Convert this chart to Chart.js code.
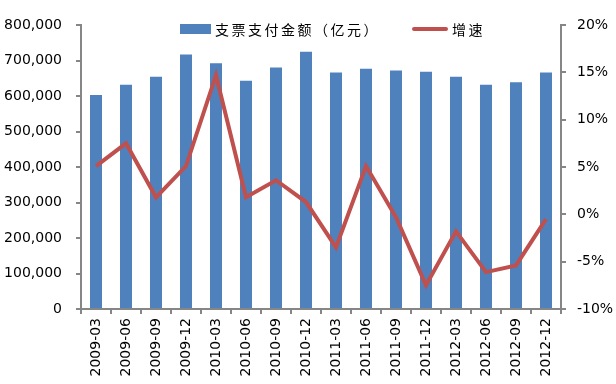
<!DOCTYPE html>
<html>
<head>
<meta charset="utf-8">
<script src="https://cdn.jsdelivr.net/npm/chart.js@4/dist/chart.umd.min.js"></script>
<style>
  body { margin: 0; background: #fff; }
  #wrap { position: relative; width: 616px; height: 384px; }
  #legend {
    position: absolute; left: 180px; top: 19px; height: 19px;
    display: flex; align-items: center;
    font-family: 'Noto Sans CJK SC'; font-size: 14px; letter-spacing: 2.5px; color: #000;
  }
  #legend .item { display: flex; align-items: center; margin-right: 32px; }
  #legend .box { margin-right: 4px; }
</style>
</head>
<body>
<div id="wrap">
  <canvas id="myChart" width="616" height="384"></canvas>
  <div id="legend"></div>
</div>
<script>
/* chart data */
const categories = ['2009-03', '2009-06', '2009-09', '2009-12', '2010-03', '2010-06', '2010-09', '2010-12',
    '2011-03', '2011-06', '2011-09', '2011-12', '2012-03', '2012-06', '2012-09', '2012-12'];
const amounts = [603000, 632000, 654000, 717000, 692000, 643000, 680000, 725000,
    666000, 677000, 672000, 668000, 654000, 632000, 639000, 666000];
const growth = [5.1, 7.5, 1.8, 5.1, 14.7, 1.8, 3.6, 1.3, -3.5, 5.1, -0.3, -7.5, -1.8, -6.1, -5.4, -0.5];

const amountLabel = '支票支付金额（亿元）';
const growthLabel = '增速';

const axisGray = '#868686';
const tickFont = { family: 'DejaVu Sans', size: 14 };

const data = {
    labels: categories,
    datasets: [{
        type: 'bar',
        label: amountLabel,
        data: amounts,
        backgroundColor: '#4F81BD',
        borderWidth: 0,
        barPercentage: 0.4,
        categoryPercentage: 1,
        yAxisID: 'y',
        order: 1
    }, {
        type: 'line',
        label: growthLabel,
        data: growth,
        borderColor: '#C0504D',
        backgroundColor: '#C0504D',
        borderWidth: 4,
        pointRadius: 0,
        tension: 0,
        yAxisID: 'y1',
        order: 0
    }]
};

// html legend, built from the datasets
const htmlLegend = {
    id: 'htmlLegend',
    afterUpdate(chart) {
        const el = document.getElementById('legend');
        el.innerHTML = '';
        chart.data.datasets.forEach((ds) => {
            const item = document.createElement('div');
            item.className = 'item';
            const box = document.createElement('span');
            box.className = 'box';
            if (ds.type === 'line') {
                box.style.cssText = 'width:36px;height:4px;border-radius:2px;background:' + ds.borderColor;
            } else {
                box.style.cssText = 'width:31px;height:10px;background:' + ds.backgroundColor;
            }
            const txt = document.createElement('span');
            txt.textContent = ds.label;
            item.appendChild(box);
            item.appendChild(txt);
            el.appendChild(item);
        });
    }
};

function loadChart() {
    new Chart(document.getElementById('myChart'), {
        data: data,
        plugins: [htmlLegend],
        options: {
            responsive: false,
            animation: false,
            layout: { padding: { top: 25, left: 0, right: 0, bottom: 0 } },
            plugins: {
                tooltip: { enabled: false },
                legend: { display: false }
            },
            scales: {
                x: {
                    grid: { display: true, drawOnChartArea: false, drawTicks: true, tickLength: 5, color: axisGray, lineWidth: 2, offset: true },
                    border: { display: true, color: axisGray, width: 2 },
                    ticks: { minRotation: 90, maxRotation: 90, autoSkip: false, padding: 4, color: '#000', font: tickFont },
                    afterFit: (s) => { s.height = 75; }
                },
                y: {
                    position: 'left',
                    min: 0,
                    max: 800000,
                    grid: { display: true, drawOnChartArea: false, drawTicks: true, tickLength: 5, color: axisGray, lineWidth: 2 },
                    border: { display: true, color: axisGray, width: 2 },
                    ticks: {
                        stepSize: 100000,
                        padding: 14,
                        color: '#000',
                        font: tickFont,
                        callback: (v) => v.toLocaleString('en-US')
                    },
                    afterFit: (s) => { s.width = 81; }
                },
                y1: {
                    position: 'right',
                    min: -10,
                    max: 20,
                    grid: { display: true, drawOnChartArea: false, drawTicks: true, tickLength: 5, color: axisGray, lineWidth: 2 },
                    border: { display: true, color: axisGray, width: 2 },
                    ticks: {
                        stepSize: 5,
                        padding: 11,
                        color: '#000',
                        font: tickFont,
                        callback: (v) => v + '%'
                    },
                    afterFit: (s) => { s.width = 55; }
                }
            }
        }
    });
}

loadChart();
</script>
</body>
</html>
